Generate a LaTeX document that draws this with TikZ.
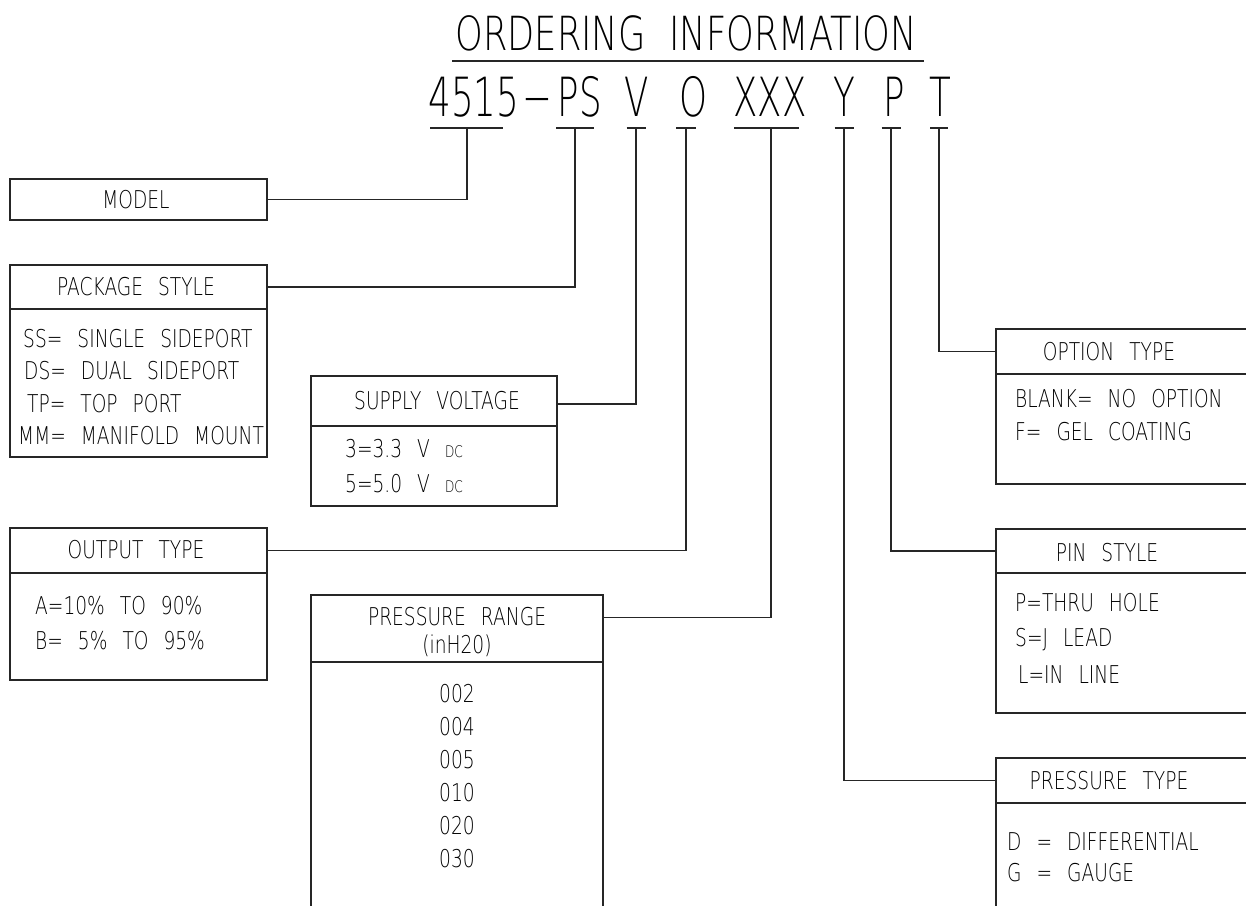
\documentclass[tikz,border=0pt]{standalone}
\usepackage{fontspec}
\newfontfamily\cad{DejaVu Sans ExtraLight}[FakeStretch=0.76]
\newfontfamily\cadt{DejaVu Sans ExtraLight}[FakeStretch=0.75]
\newfontfamily\cadp{DejaVu Sans ExtraLight}[FakeStretch=0.66]
\newcommand\bodyfont{\cad\fontsize{24.5}{28}\selectfont\spaceskip 15pt plus 2pt minus 2pt\relax}
\newcommand\titlefont{\cadt\fontsize{47}{50}\selectfont\spaceskip 24pt\relax}
\newcommand\subdc{{\fontsize{16}{16}\selectfont DC}}
\begin{document}
\begin{tikzpicture}[x=1pt,y=-1pt,
  ln/.style={line width=1.2pt, draw=black!85},
  box/.style={ln, rectangle, inner sep=0pt, outer sep=0pt, anchor=north west},
  lbl/.style={inner sep=0pt, font=\bodyfont, anchor=base},
  lbll/.style={lbl, anchor=base west},
  pn/.style={inner sep=0pt, font=\cadp\fontsize{54}{58}\selectfont, anchor=base}]
\useasboundingbox (0,0) rectangle (1246,905);
\clip (0,0) rectangle (1246,905);

% title
\node[inner sep=0pt, anchor=base, font=\titlefont] (title) at (686,50) {ORDERING INFORMATION};
\draw[ln] (title.south west |- 0,61) ++(-3,0) -- ++(472,0);

% part number
\node[pn] (n4515) at (474,116) {4515};
\node[pn] (ndash) at (537,116) {−};
\node[pn] (nPS) at (580,116) {PS};
\node[pn] (nV) at (637,116) {V};
\node[pn] (nO) at (694,116) {O};
\node[pn] (nX) at (770,116) {XXX};
\node[pn] (nY) at (844,116) {Y};
\node[pn] (nP) at (894,116) {P};
\node[pn] (nT) at (940,116) {T};

% tick coordinates
\coordinate (tM) at (467,128);
\coordinate (tPS) at (575,128);
\coordinate (tV) at (636,128);
\coordinate (tO) at (686,128);
\coordinate (tX) at (771,128);
\coordinate (tY) at (844,128);
\coordinate (tP) at (891,128);
\coordinate (tT) at (939,128);

\draw[ln] (430,128) -- (503,128);
\draw[ln] (556,128) -- (594,128);
\draw[ln] ([xshift=-9.5pt]tV) -- ([xshift=9.5pt]tV);
\draw[ln] ([xshift=-10pt]tO) -- ([xshift=10pt]tO);
\draw[ln] (734,128) -- (799,128);
\draw[ln] ([xshift=-9.5pt]tY) -- ([xshift=9.5pt]tY);
\draw[ln] ([xshift=-9.5pt]tP) -- ([xshift=9.5pt]tP);
\draw[ln] ([xshift=-9pt]tT) -- ([xshift=9pt]tT);

% boxes
\node[box, minimum width=257pt, minimum height=41pt] (model) at (10,179) {};
\node[box, minimum width=257pt, minimum height=44pt] (pkgH) at (10,265) {};
\node[box, minimum width=257pt, minimum height=148pt] (pkgB) at (10,309) {};
\node[box, minimum width=246pt, minimum height=50pt] (supH) at (311,376) {};
\node[box, minimum width=246pt, minimum height=80pt] (supB) at (311,426) {};
\node[box, minimum width=257pt, minimum height=45pt] (outH) at (10,528) {};
\node[box, minimum width=257pt, minimum height=107pt] (outB) at (10,573) {};
\node[box, minimum width=292pt, minimum height=67pt] (prH) at (311,595) {};
\node[box, minimum width=292pt, minimum height=260pt] (prB) at (311,662) {};
\node[box, minimum width=270pt, minimum height=45pt] (optH) at (996,329) {};
\node[box, minimum width=270pt, minimum height=110pt] (optB) at (996,374) {};
\node[box, minimum width=270pt, minimum height=44pt] (pinH) at (996,529) {};
\node[box, minimum width=270pt, minimum height=140pt] (pinB) at (996,573) {};
\node[box, minimum width=270pt, minimum height=45pt] (ptH) at (996,758) {};
\node[box, minimum width=270pt, minimum height=130pt] (ptB) at (996,803) {};

% connectors
\draw[ln] (tM) |- (model.east);
\draw[ln] (tPS) |- (pkgH.east);
\draw[ln] (tV) |- ([yshift=-3pt]supH.east);
\draw[ln] (tO) |- (outH.east);
\draw[ln] (tX) |- ([yshift=11pt]prH.east);
\draw[ln] (tT) |- (optH.west);
\draw[ln] (tP) |- (pinH.west);
\draw[ln] (tY) |- (ptH.west);

% texts
\node[lbl] (tmodel) at (136,208.5) {MODEL};
\node[lbl] (tpkg) at (136,295.5) {PACKAGE STYLE};
\node[lbll] (tss) at (23,347.5) {SS= SINGLE SIDEPORT};
\node[lbll] (tds) at (24,379.5) {DS= DUAL SIDEPORT};
\node[lbll] (ttp) at (27,412.5) {TP= TOP PORT};
\node[lbll] (tmm) at (18,444.5) {MM= MANIFOLD MOUNT};

\node[lbl] (tsup) at (437,409.5) {SUPPLY VOLTAGE};
\node[lbll] (ts3) at (345,457.5) {3=3.3 V \subdc};
\node[lbll] (ts5) at (345,492.5) {5=5.0 V \subdc};

\node[lbl] (tout) at (136,558.5) {OUTPUT TYPE};
\node[lbll] (toa) at (35,614.5) {A=10\% TO 90\%};
\node[lbll] (tob) at (35,649.5) {B= 5\% TO 95\%};

\node[lbl] (tpr1) at (457,625.5) {PRESSURE RANGE};
\node[lbl] (tpr2) at (457,653.5) {(inH20)};
\node[lbl] (v1) at (457,702.5) {002};
\node[lbl] (v2) at (457,735.5) {004};
\node[lbl] (v3) at (457,768.5) {005};
\node[lbl] (v4) at (457,801.5) {010};
\node[lbl] (v5) at (457,834.5) {020};
\node[lbl] (v6) at (457,867.5) {030};

\node[lbl] (topt) at (1109,360.5) {OPTION TYPE};
\node[lbll] (to1) at (1015,407.5) {BLANK= NO OPTION};
\node[lbll] (to2) at (1015,440.5) {F= GEL COATING};

\node[lbl] (tpin) at (1107,561) {PIN STYLE};
\node[lbll] (tp1) at (1015,611.5) {P=THRU HOLE};
\node[lbll] (tp2) at (1015,646.5) {S=J LEAD};
\node[lbll] (tp3) at (1018,683.5) {L=IN LINE};

\node[lbl] (tpt) at (1109,789.5) {PRESSURE TYPE};
\node[lbll] (tt1) at (1007,850.5) {D = DIFFERENTIAL};
\node[lbll] (tt2) at (1007,881.5) {G = GAUGE};
\end{tikzpicture}
\end{document}
